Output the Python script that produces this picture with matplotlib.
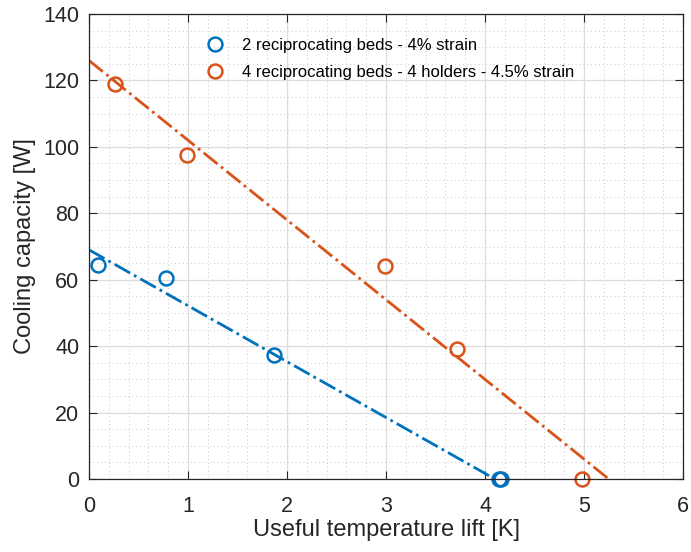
import matplotlib
matplotlib.use("Agg")
import matplotlib.pyplot as plt
from matplotlib.ticker import MultipleLocator

plt.rcParams["font.family"] = ["Liberation Sans", "DejaVu Sans"]

# measured points
lift_2beds = [0.09, 0.78, 1.87, 4.14, 4.16]
cap_2beds = [64.3, 60.5, 37.2, 0.0, 0.0]
lift_4beds = [0.26, 0.99, 2.99, 3.72, 4.98]
cap_4beds = [119.0, 97.5, 64.2, 39.1, 0.0]

# linear fits
fit_2beds_x = [0.0, 4.1]
fit_2beds_y = [69.0, 0.0]
fit_4beds_x = [0.0, 5.25]
fit_4beds_y = [126.0, 0.0]

labels = ["2 reciprocating beds - 4% strain",
          "4 reciprocating beds - 4 holders - 4.5% strain"]

BLUE = "#0072BD"
ORANGE = "#D95319"
DARK = "#262626"

fig = plt.figure(figsize=(6.91, 5.52), dpi=100)
ax = fig.add_axes([89 / 691, 1 - 479 / 552, 594 / 691, 465 / 552])

ax.plot(fit_2beds_x, fit_2beds_y, color=BLUE, lw=2, ls="-.")
ax.plot(fit_4beds_x, fit_4beds_y, color=ORANGE, lw=2, ls="-.")
ax.plot(lift_2beds, cap_2beds, "o", mfc="none", mec=BLUE, mew=1.8, ms=10,
        label=labels[0], clip_on=False)
ax.plot(lift_4beds, cap_4beds, "o", mfc="none", mec=ORANGE, mew=1.8, ms=10,
        label=labels[1], clip_on=False)

ax.set_xlim(0, 6)
ax.set_ylim(0, 140)
ax.xaxis.set_major_locator(MultipleLocator(1))
ax.yaxis.set_major_locator(MultipleLocator(20))
ax.xaxis.set_minor_locator(MultipleLocator(0.2))
ax.yaxis.set_minor_locator(MultipleLocator(5))
ax.grid(which="major", color="#dcdcdc", lw=0.9)
ax.grid(which="minor", color="#c8c8c8", lw=0.7, ls=(0, (1, 3)))
ax.set_axisbelow(True)
ax.tick_params(which="both", direction="in", top=True, right=True,
               colors=DARK, labelsize=15.5)
ax.tick_params(axis="x", pad=12)
ax.tick_params(axis="y", pad=7)
ax.tick_params(which="major", length=6)
ax.tick_params(which="minor", length=0)
for s in ax.spines.values():
    s.set_color(DARK)
    s.set_linewidth(0.9)

ax.set_xlabel("Useful temperature lift [K]", fontsize=17, color=DARK, labelpad=1.5)
ax.set_ylabel("Cooling capacity [W]", fontsize=17, color=DARK, labelpad=5)

ax.legend(loc="upper left", bbox_to_anchor=(0.17, 0.981), frameon=False,
          fontsize=12, handlelength=1.2, handletextpad=1.0, labelspacing=0.7)

fig.savefig("out.png", dpi=100)
